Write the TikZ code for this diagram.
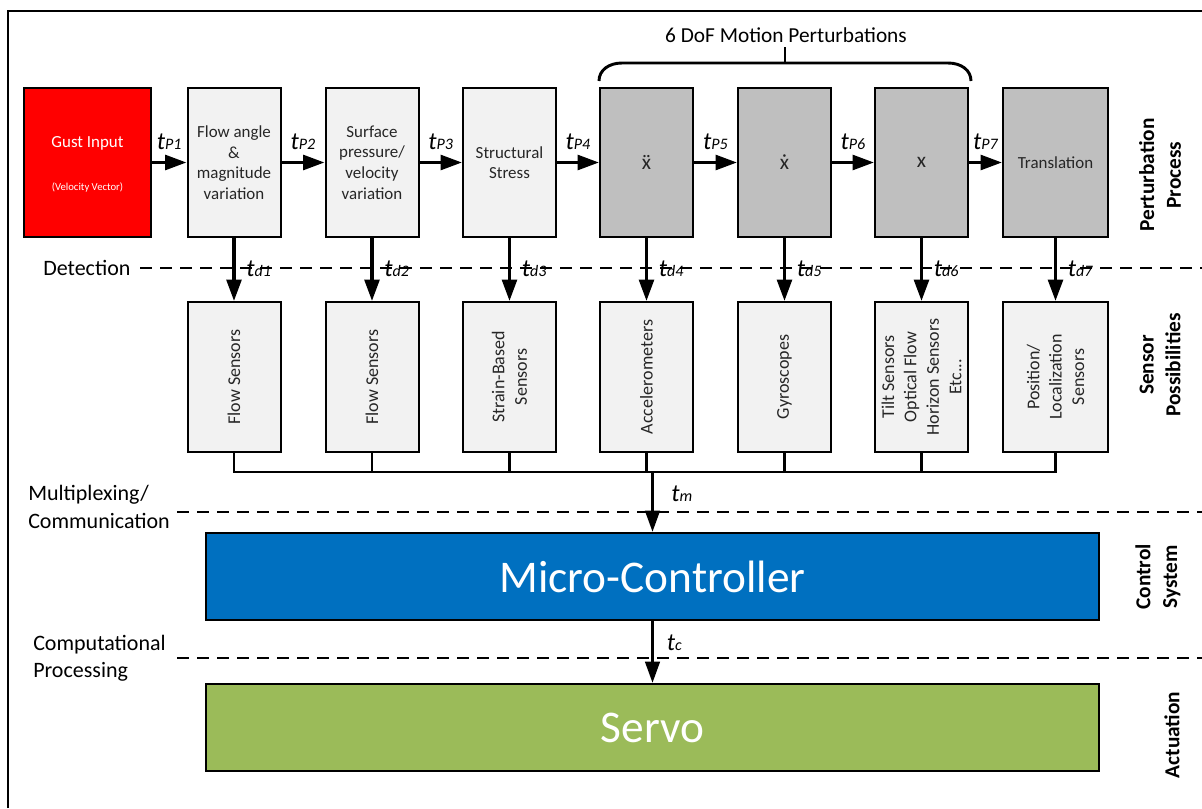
\documentclass[tikz,border=0pt]{standalone}
\usepackage{fontspec}
\setmainfont{Carlito}
\usetikzlibrary{arrows.meta}
\definecolor{boxlight}{HTML}{F2F2F2}
\definecolor{boxdark}{HTML}{BFBFBF}
\definecolor{gustred}{HTML}{FF0000}
\definecolor{mcblue}{HTML}{0070C0}
\definecolor{servogreen}{HTML}{9BBB59}
\definecolor{txt}{HTML}{262626}
\newcommand{\tl}[2]{{\fontsize{18.5}{18.5}\selectfont\itshape #1}{\fontsize{12}{12}\selectfont\itshape #2}}
\begin{document}
\begin{tikzpicture}[x=0.75pt,y=-0.75pt,
  box/.style={draw=black, line width=1.5pt, inner sep=1pt, align=center, text=txt,
    font=\fontsize{12.7}{15.4}\selectfont},
  topbox/.style={box, fill=boxlight, minimum width=69.75pt, minimum height=111.75pt},
  darkbox/.style={topbox, fill=boxdark},
  sbox/.style={box, fill=boxlight, minimum width=69.75pt, minimum height=112.5pt},
  stext/.style={rotate=90, align=center, text=txt, inner sep=0pt,
    font=\fontsize{13.5}{16.8}\selectfont},
  bigbox/.style={draw=black, line width=1.5pt, minimum width=669.75pt, minimum height=65.5pt,
    text=white, font=\fontsize{34}{36}\selectfont},
  arr/.style={line width=2.6pt, -{Triangle[length=16pt,width=11pt]}},
  arrthin/.style={line width=2pt, -{Triangle[length=16pt,width=11pt]}},
  bus/.style={line width=2.2pt},
  dashline/.style={line width=1pt, dash pattern=on 9pt off 6pt},
  tlab/.style={inner sep=0pt, text=black},
  sidelab/.style={inner sep=0pt, align=left, anchor=west, font=\fontsize{16.5}{20.5}\selectfont},
  rlab/.style={rotate=90, inner sep=0pt, align=center, font=\bfseries\fontsize{16}{20}\selectfont}
]
\useasboundingbox (0,0) rectangle (1202,808);
% frame
\draw[line width=2.2pt] (8,808) -- (8,11) -- (1202,11);

% brace
\draw[line width=2.2pt] (599,81) .. controls (599,70) and (609,63) .. (622,63) -- (948,63)
  .. controls (961,63) and (971,70) .. (971,81);
\draw[line width=2.2pt] (785,63) -- (785,47);
\node[inner sep=0pt, font=\fontsize{16}{18}\selectfont] (dof) at (786,35) {6 DoF Motion Perturbations};

% top row
\node[box, fill=gustred, minimum width=95.25pt, minimum height=111.75pt] (gust) at (87.5,162.5) {};
\node[inner sep=0pt, text=white, font=\fontsize{12.7}{15}\selectfont] (gustt) at (87.5,143) {Gust Input};
\node[inner sep=0pt, text=white, font=\fontsize{8}{10}\selectfont] (gustv) at (87.5,187) {(Velocity Vector)};
\node[topbox] (p1) at (234,162.5) {Flow angle\\\&\\magnitude\\variation};
\node[topbox] (p2) at (372,162.5) {Surface\\pressure/\\velocity\\variation};
\node[topbox] (p3) at (509.5,162.5) {Structural\\Stress};
\node[darkbox, font=\fontsize{16}{18}\selectfont] (p4) at (646.5,162.5) {\accent"00A8 x};
\node[darkbox, font=\fontsize{16}{18}\selectfont] (p5) at (784.5,162.5) {\accent"02D9 x};
\node[darkbox, font=\fontsize{16}{18}\selectfont] (p6) at (921.5,162.5) {x};
\node[darkbox, minimum width=78.75pt] (p7) at (1055.5,162.5) {Translation};

\draw[arr] (gust) -- node[tlab, above=8pt] (tp1) {\tl{t}{P1}} (p1);
\draw[arr] (p1) -- node[tlab, above=8pt] (tp2) {\tl{t}{P2}} (p2);
\draw[arr] (p2) -- node[tlab, above=8pt] (tp3) {\tl{t}{P3}} (p3);
\draw[arr] (p3) -- node[tlab, above=8pt] (tp4) {\tl{t}{P4}} (p4);
\draw[arr] (p4) -- node[tlab, above=8pt] (tp5) {\tl{t}{P5}} (p5);
\draw[arr] (p5) -- node[tlab, above=8pt] (tp6) {\tl{t}{P6}} (p6);
\draw[arr] (p6) -- node[tlab, above=8pt] (tp7) {\tl{t}{P7}} (p7);

% detection line
\coordinate (detl) at (140,268);
\coordinate (detr) at (1202,268);
\draw[dashline] (detl) -- (detr);
\node[sidelab] (detect) at (43,268) {Detection};

% sensor row
\node[sbox] (s1) at (234,377) {};
\node[sbox] (s2) at (372,377) {};
\node[sbox] (s3) at (509.5,377) {};
\node[sbox] (s4) at (646.5,377) {};
\node[sbox] (s5) at (784.5,377) {};
\node[sbox] (s6) at (921.5,377) {};
\node[sbox, minimum width=78.75pt] (s7) at (1055.5,377) {};
\node[stext] (s1t) at (s1) {Flow Sensors};
\node[stext] (s2t) at (s2) {Flow Sensors};
\node[stext] (s3t) at (s3) {Strain-Based\\Sensors};
\node[stext] (s4t) at (s4) {Accelerometers};
\node[stext] (s5t) at (s5) {Gyroscopes};
\node[stext] (s6t) at (s6) {Tilt Sensors\\Optical Flow\\Horizon Sensors\\Etc...};
\node[stext] (s7t) at (s7) {Position/\\Localization\\Sensors};

\foreach \i in {1,...,7}{
  \draw[arr] (p\i.south) -- (s\i.north);
  \node[tlab, anchor=west] (td\i) at ([xshift=9pt]p\i.south |- 0,269) {\tl{t}{d\i}};
}

% bus
\coordinate (busl) at (0,472);
\draw[bus] (s1.south) -- (s1.south |- busl) -- (s7.south |- busl) -- (s7.south);
\foreach \i in {2,...,6}{ \draw[bus] (s\i.south) -- (s\i.south |- busl); }

% multiplexing
\coordinate (muxl) at (177,512);
\coordinate (muxr) at (1202,512);
\draw[dashline] (muxl) -- (muxr);
\node[sidelab] (mux) at (28,507) {Multiplexing/\\Communication};

\node[bigbox, fill=mcblue] (micro) at (652.5,576.5) {Micro-Controller};
\draw[arrthin] (micro.north |- busl) -- (micro.north);
\node[tlab, anchor=west] (tm) at ([xshift=14pt]micro.north |- 0,494) {\tl{t}{m}};

% computational
\coordinate (compl) at (177,658);
\coordinate (compr) at (1202,658);
\draw[dashline] (compl) -- (compr);
\node[sidelab] (comp) at (33,658) {Computational\\Processing};

\node[bigbox, fill=servogreen] (servo) at (652.5,727.5) {Servo};
\draw[arrthin] (micro.south) -- (servo.north);
\node[tlab, anchor=west] (tc) at ([xshift=10.5pt]micro.south |- 0,643) {\tl{t}{c}};

% right labels
\node[rlab] (rl1) at (1160,175) {Perturbation\\Process};
\node[rlab] (rl2) at (1160,365) {Sensor\\Possibilities};
\node[rlab] (rl3) at (1158,577) {Control\\System};
\node[rlab] (rl4) at (1172,735) {Actuation};
\end{tikzpicture}
\end{document}
